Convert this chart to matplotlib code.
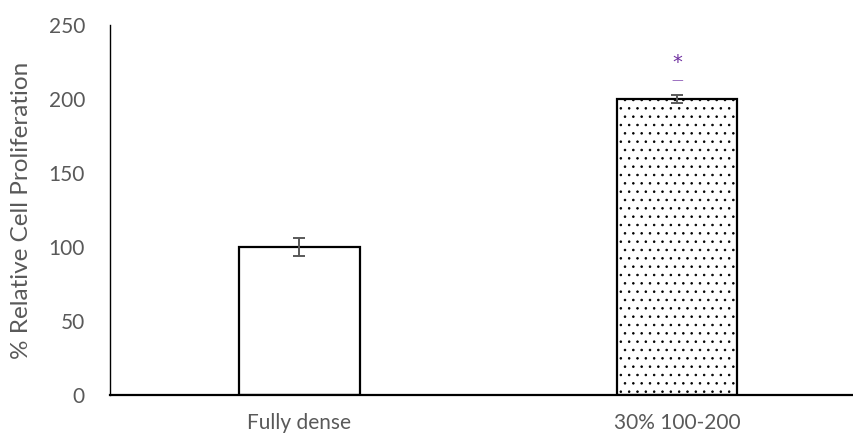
import matplotlib
matplotlib.use("Agg")
import matplotlib.pyplot as plt

categories = ["Fully dense", "30% 100-200"]
values = [100, 200]
errors = [6, 2.5]
y_ticks = [0, 50, 100, 150, 200, 250]
y_label = "% Relative Cell Proliferation"

plt.rcParams['font.family'] = ['Lato', 'DejaVu Sans']
plt.rcParams['hatch.linewidth'] = 0.6
plt.rcParams['hatch.color'] = '#a0a0a0'

fig = plt.figure(figsize=(8.54, 4.36), dpi=100)
ax = fig.add_axes([110/854, 1-395/436, 1-110/854, (395-25)/436])

text_col = '#595959'
x = list(range(len(categories)))
hatches = ['', '..']
for xi, v, h in zip(x, values, hatches):
    ax.bar(xi, v, width=0.318, color='white', edgecolor='black', linewidth=1.6,
           hatch=h, zorder=2)
ax.errorbar(x, values, yerr=errors, fmt='none', ecolor=text_col, elinewidth=1.4,
            capsize=4.5, capthick=1.4, zorder=3)

# significance marker
ax.text(x[1], values[1] + 24.5, "*", color='#7030A0', ha='center', va='center',
        fontsize=14, family='DejaVu Sans')
ax.text(x[1], values[1] + 12.5, "—", color='#9b6fc0', ha='center', va='center',
        fontsize=8.5, family='DejaVu Sans')

ax.set_xlim(-0.502, 1.469)
ax.set_ylim(0, 250)
ax.set_yticks(y_ticks)
ax.set_xticks(x)
ax.set_xticklabels(categories)
ax.tick_params(axis='both', length=0, colors=text_col, labelsize=15)
ax.tick_params(axis='y', pad=18)
ax.tick_params(axis='x', pad=13)
ax.set_ylabel(y_label, color=text_col, fontsize=17.5, labelpad=12)

for s in ['top', 'right']:
    ax.spines[s].set_visible(False)
ax.spines['left'].set_linewidth(1.0)
ax.spines['bottom'].set_linewidth(1.6)
ax.spines['left'].set_color('black')
ax.spines['bottom'].set_color('black')

fig.savefig("out.png", dpi=100)
